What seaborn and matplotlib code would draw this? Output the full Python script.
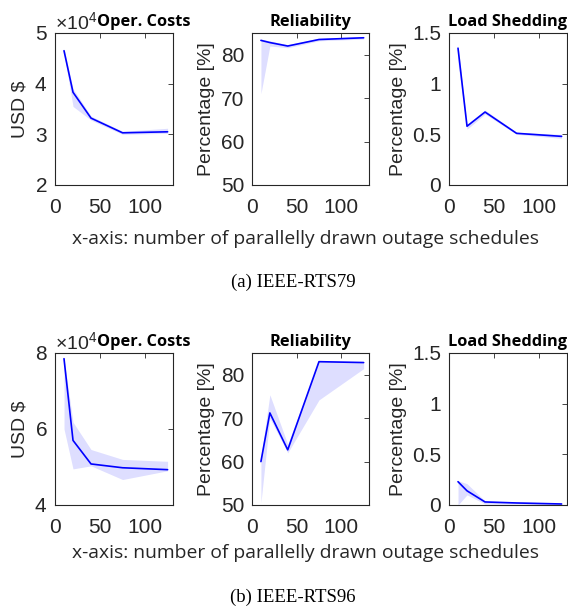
import numpy as np
import pandas as pd
import matplotlib
matplotlib.use("Agg")
import matplotlib.pyplot as plt
import seaborn as sns
from matplotlib.ticker import ScalarFormatter, FixedLocator, FuncFormatter

sns.set_theme(style="white")
plt.rcParams['font.family'] = ['Liberation Sans', 'DejaVu Sans']
plt.rcParams['mathtext.fontset'] = 'custom'
plt.rcParams['mathtext.rm'] = 'Liberation Sans'
plt.rcParams['mathtext.it'] = 'Liberation Sans'

# ---------------- data ----------------
samples = [10, 20, 40, 75, 125]

# IEEE-RTS79
cost79_mid = [46500, 38300, 33200, 30300, 30500]
cost79_lo = [46000, 35500, 32800, 30000, 30200]
cost79_hi = [47000, 39000, 33600, 30600, 31200]
rel79_mid = [83.3, 82.8, 82.0, 83.5, 83.9]
rel79_lo = [71.0, 82.0, 81.6, 83.2, 83.6]
rel79_hi = [83.6, 83.2, 82.3, 83.8, 84.2]
ls79_mid = [1.35, 0.58, 0.72, 0.51, 0.48]
ls79_lo = [1.20, 0.55, 0.70, 0.50, 0.46]
ls79_hi = [1.38, 0.60, 0.74, 0.52, 0.50]

# IEEE-RTS96
cost96_mid = [78500, 57000, 50800, 49800, 49300]
cost96_lo = [60000, 49500, 50300, 46700, 49000]
cost96_hi = [78500, 61800, 54600, 52000, 51500]
rel96_mid = [60.0, 71.2, 62.7, 83.0, 82.8]
rel96_lo = [50.5, 70.0, 62.0, 74.2, 81.4]
rel96_hi = [61.0, 75.4, 64.0, 83.2, 83.0]
ls96_mid = [0.23, 0.14, 0.03, 0.02, 0.01]
ls96_lo = [0.00, 0.10, 0.01, 0.01, 0.00]
ls96_hi = [0.24, 0.21, 0.04, 0.03, 0.02]

titles = ["Oper. Costs", "Reliability", "Load Shedding"]
xlabel = "x-axis: number of parallelly drawn outage schedules"
captions = ["(a) IEEE-RTS79", "(b) IEEE-RTS96"]

rows = [
    [(cost79_lo, cost79_mid, cost79_hi), (rel79_lo, rel79_mid, rel79_hi), (ls79_lo, ls79_mid, ls79_hi)],
    [(cost96_lo, cost96_mid, cost96_hi), (rel96_lo, rel96_mid, rel96_hi), (ls96_lo, ls96_mid, ls96_hi)],
]
ylims = [[(20000, 50000), (50, 85), (0, 1.5)], [(40000, 80000), (50, 85), (0, 1.5)]]
yticks = [[[20000, 30000, 40000, 50000], [50, 60, 70, 80], [0, 0.5, 1, 1.5]],
          [[40000, 60000, 80000], [50, 60, 70, 80], [0, 0.5, 1, 1.5]]]
ylabels = ["USD $", "Percentage [%]", "Percentage [%]"]

W, H = 568, 610
fig = plt.figure(figsize=(W / 100, H / 100), dpi=100)

gray = "#262626"
lefts = [55, 252, 449]
widths = [118, 117, 118]
tops = [33, 353]
ph = 152
xlabel_y = [239, 553]
caption_y = [282, 597]

title_font = ['Open Sans', 'DejaVu Sans']

for r in range(2):
    for c in range(3):
        ax = fig.add_axes([lefts[c] / W, 1 - (tops[r] + ph) / H, widths[c] / W, ph / H])
        lo, mid, hi = rows[r][c]
        df = pd.DataFrame({
            "x": samples * 3,
            "y": list(lo) + list(mid) + list(hi),
        })
        sns.lineplot(data=df, x="x", y="y", estimator="median", errorbar=("pi", 100),
                     color="#0000ff", linewidth=1.2, ax=ax, err_kws={"alpha": 0.13, "linewidth": 0})
        ax.set_xlim(0, 131)
        ax.set_ylim(*ylims[r][c])
        ax.set_xticks([0, 50, 100])
        ax.yaxis.set_major_locator(FixedLocator(yticks[r][c]))
        if c == 0:
            fmt = ScalarFormatter(useMathText=True)
            fmt.set_powerlimits((0, 0))
            ax.yaxis.set_major_formatter(fmt)
            ax.yaxis.get_offset_text().set_fontsize(14)
            ax.yaxis.get_offset_text().set_color(gray)
        elif c == 2:
            ax.yaxis.set_major_formatter(FuncFormatter(lambda v, p: f"{v:g}"))
        ax.set_xlabel("")
        ax.set_ylabel(ylabels[c], fontsize=14, color=gray, labelpad=4)
        ax.tick_params(direction="in", top=True, right=True, length=3.5, width=0.6,
                       labelsize=15, colors=gray)
        ax.tick_params(axis="x", pad=9.5)
        ax.tick_params(axis="y", pad=5.5)
        for s in ax.spines.values():
            s.set_color(gray)
            s.set_linewidth(0.8)
        tx = 0.75 if c == 0 else 0.5
        ax.set_title(titles[c], fontsize=11.8, fontweight="bold", color="black",
                     family=title_font, x=tx, y=1.0, pad=5)

    # shared x label
    fig.text(305 / W, 1 - xlabel_y[r] / H, xlabel, ha="center", va="center",
             fontsize=13.9, color=gray, family=['Open Sans', 'DejaVu Sans'])
    fig.text(293 / W, 1 - caption_y[r] / H, captions[r], ha="center", va="center",
             fontsize=13.5, color="black", family=['Liberation Serif', 'DejaVu Serif'])

fig.savefig("out.png", dpi=100, facecolor="white")
